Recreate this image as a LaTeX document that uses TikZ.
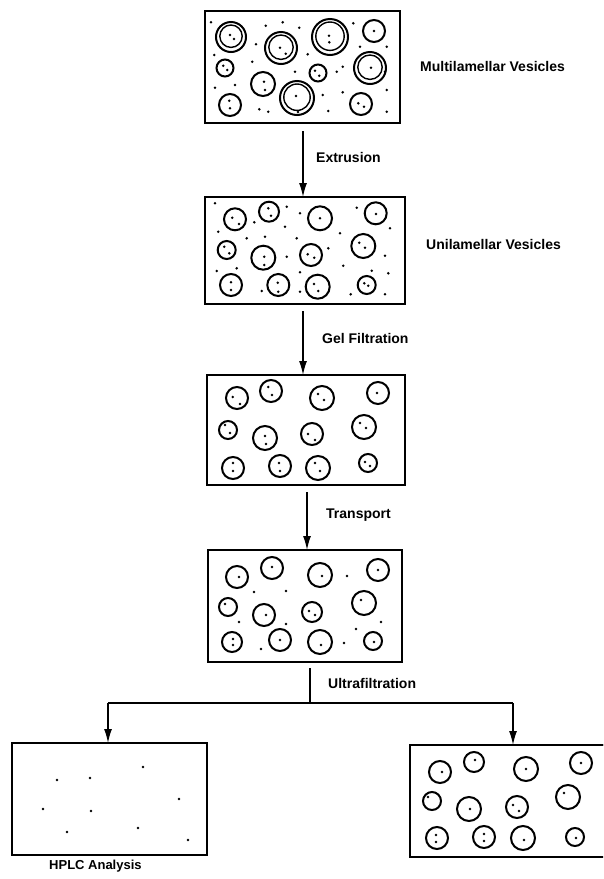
\documentclass[tikz,border=0pt]{standalone}
\usepackage{fontspec}
\setmainfont{Liberation Sans}
\usetikzlibrary{arrows.meta}
\begin{document}
\begin{tikzpicture}[x=1pt,y=-1pt,
  stage/.style={draw,line width=1.7pt,inner sep=0pt,outer sep=0pt},
  flow/.style={line width=1.4pt,-{Latex[length=14pt,width=8pt]}},
  feed/.style={line width=1.4pt},
  lbl/.style={anchor=west,inner sep=0pt,font=\bfseries\fontsize{14}{16}\selectfont},
  ves/.style={line width=2pt},
  dot/.style={fill=black}]
\useasboundingbox (0,0) rectangle (603,879);
\clip (0,0) rectangle (603,879);
\fill[white] (0,0) rectangle (603,879);

% process stages
\node[stage,minimum width=195pt,minimum height=112pt] (mlv) at (302.5,67) {};
\node[stage,minimum width=200pt,minimum height=107pt] (ulv) at (305,250.5) {};
\node[stage,minimum width=198pt,minimum height=110pt] (gel) at (306,430) {};
\node[stage,minimum width=194pt,minimum height=112pt] (trn) at (305,606) {};
\node[stage,minimum width=195pt,minimum height=112pt] (hplc) at (109.5,799) {};
\node[stage,minimum width=205pt,minimum height=112pt] (ret) at (512.5,801) {};

% thicker top edges
\draw[line width=2.8pt] (mlv.north west) -- (mlv.north east);
\draw[line width=2.8pt] (ulv.north west) -- (ulv.north east);
\draw[line width=2.8pt] (gel.north west) -- (gel.north east);
\draw[line width=2.8pt] (trn.north west) -- (trn.north east);
\draw[line width=2.8pt] (ret.north west) -- (ret.north east);

% labels
\node[lbl] (tmlv) at (420,66) {Multilamellar Vesicles};
\node[lbl] (tulv) at (426,244) {Unilamellar Vesicles};
\node[lbl] (text) at (316,157) {Extrusion};
\node[lbl] (tgel) at (322,338) {Gel Filtration};
\node[lbl] (ttrn) at (326,515) {Transport};
\node[lbl] (tuf) at (328,683) {Ultrafiltration};
\node[lbl,font=\bfseries\fontsize{13}{16}\selectfont] (thplc) at (49,866) {HPLC Analysis};

% connectors
\coordinate (s1) at (303,131);
\coordinate (s2) at (303,311);
\coordinate (s3) at (307,492);
\coordinate (s4) at (310,668);
\coordinate (split) at (310,703);
\coordinate (jl) at (108,703);
\coordinate (jr) at (513,703);
\draw[flow] (s1) -- (s1 |- ulv.north);
\draw[flow] (s2) -- (s2 |- gel.north);
\draw[flow] (s3) -- (s3 |- trn.north);
\draw[feed] (s4) -- (split);
\draw[feed] (jl) -- (jr);
\draw[flow] (jl) -- (jl |- hplc.north);
\draw[flow] (jr) -- (jr |- ret.north);

% multilamellar vesicles: double-walled
\foreach \x/\y/\r in {231/37/15, 281/48/16, 330/37/18, 297/98/17, 370/68/16}{
  \draw[ves] (\x,\y) circle[radius=\r pt];
  \draw[ves,line width=1.4pt] (\x,\y-0.8) circle[radius=\r pt-3.8pt];
}
\foreach \x/\y/\r in {374/31/11, 225/68/8.5, 263/84/12, 318/73/8.5, 230/105/11, 361/104/11}{
  \draw[ves] (\x,\y) circle[radius=\r pt];
}
\foreach \x/\y in {230/35, 234/39, 280/47.7, 285.7/53.7, 329/35.7, 329.3/42.3, 374/31,
  223.3/65.7, 227.3/70, 264/81.7, 265/90, 296/96, 315/70.7, 319.3/75.7, 371/67.7,
  229.3/100.7, 230/108.3, 358.3/103.3, 364/106.7,
  211/22.3, 265.7/25.7, 282.7/22.3, 299.3/27.7, 353.3/23.3, 256/44.3, 360/46.7,
  386.7/46.7, 214.3/55, 252.3/61.7, 295/71.7, 307.7/54.3, 336.7/71.7, 342.7/66.7,
  385/71.7, 215/87.7, 235/85, 322.7/95, 342.7/92.3, 386.7/90, 259.3/109.3,
  268.3/111.7, 328.3/111, 386.7/111.7, 298/112}{
  \fill[dot] (\x,\y) circle[radius=1.4pt];
}

% unilamellar vesicles
\foreach \x/\y/\r in {235/219.3/11, 269/211.7/10, 320/218.3/12, 375.7/213.3/11,
  226.7/250/9, 263.3/257.7/12, 311/255/11, 363.3/246/12,
  231/285/11, 278.3/285/11, 317.7/286.7/12, 366.7/285/9}{
  \draw[ves] (\x,\y) circle[radius=\r pt];
}
\foreach \x/\y in {232.3/217.7, 239/224, 268.3/208.3, 271/215.7, 320/218.3, 376/214,
  224.3/246.7, 229.3/253.3, 264.3/256.7, 264.3/265, 307.7/254.3, 314.3/257.7,
  359.3/242.7, 365/247.7, 231/282.3, 231/290, 277.7/282.7, 278.3/291.7, 314/284,
  318.3/291, 364.3/283.3, 368.3/285.7,
  215/203.3, 286.7/206.7, 300/213.3, 356.7/207.7, 254.3/222.3, 285/226.7,
  218.3/231.7, 390/228.3, 246.7/238.3, 265/236.7, 296.7/238.3, 340/233.3,
  328.3/248.3, 286.7/256.7, 385/255.7, 236.7/268.3, 343.3/265.7, 216.7/271,
  300/272.3, 371.7/270.7, 388.3/273.3, 261.7/291, 300/291.7, 350.7/294.3, 385/294.3}{
  \fill[dot] (\x,\y) circle[radius=1.4pt];
}

% after gel filtration
\foreach \x/\y/\r in {237/398/11, 271/391/11, 322/398/12, 378/393/11,
  228/430/9, 265/438/12, 312/434/11, 364/427/12,
  233/468/11, 280/466/11, 318/468/12, 368/463/9}{
  \draw[ves] (\x,\y) circle[radius=\r pt];
}
\foreach \x/\y in {232.7/397, 240/404, 268.3/387, 272/395, 318/394, 324/400, 377/393,
  225/425, 230/433, 265/436, 266/444, 308/434, 315/440, 360/423, 366/428,
  233/463, 233/471, 279/463, 280/471, 315/463, 320/471, 365/462, 370/466}{
  \fill[dot] (\x,\y) circle[radius=1.4pt];
}

% after transport
\foreach \x/\y/\r in {237/577/11, 272/568/11, 320/575/12, 378/570/11,
  228/607/9, 264/615/11, 312/612/10, 364/603/12,
  232/642/10, 280/640/11, 320/642/12, 373/641/9}{
  \draw[ves] (\x,\y) circle[radius=\r pt];
}
\foreach \x/\y in {239/577, 272/567, 322/576, 378/570, 225/604, 266/615, 309/611,
  315/615, 361/600, 233/639, 233/645, 280/640, 321/645, 374/642,
  254/592, 286/591, 347/576, 239/622, 286/624, 356/629, 381/622, 261/649, 344/643}{
  \fill[dot] (\x,\y) circle[radius=1.4pt];
}

% filtrate
\foreach \x/\y in {57/780, 90/778, 143/767, 179/799, 43/809, 91/811, 67/832, 138/828, 188/840}{
  \fill[dot] (\x,\y) circle[radius=1.4pt];
}

% retentate
\foreach \x/\y/\r in {440/772/11, 474/762/10, 526/769/12, 581/763/11,
  432/801/9, 469/809/12, 517/807/11, 568/797/12,
  437/838/11, 484/837/11, 523/838/12, 575/837/9}{
  \draw[ves] (\x,\y) circle[radius=\r pt];
}
\foreach \x/\y in {442/772, 475/760, 526/769, 581/763, 428/797, 470/809, 513/805,
  519/811, 564/793, 436/835, 436/842, 484/834, 484/841, 524/840, 576/838}{
  \fill[dot] (\x,\y) circle[radius=1.4pt];
}
\end{tikzpicture}
\end{document}
